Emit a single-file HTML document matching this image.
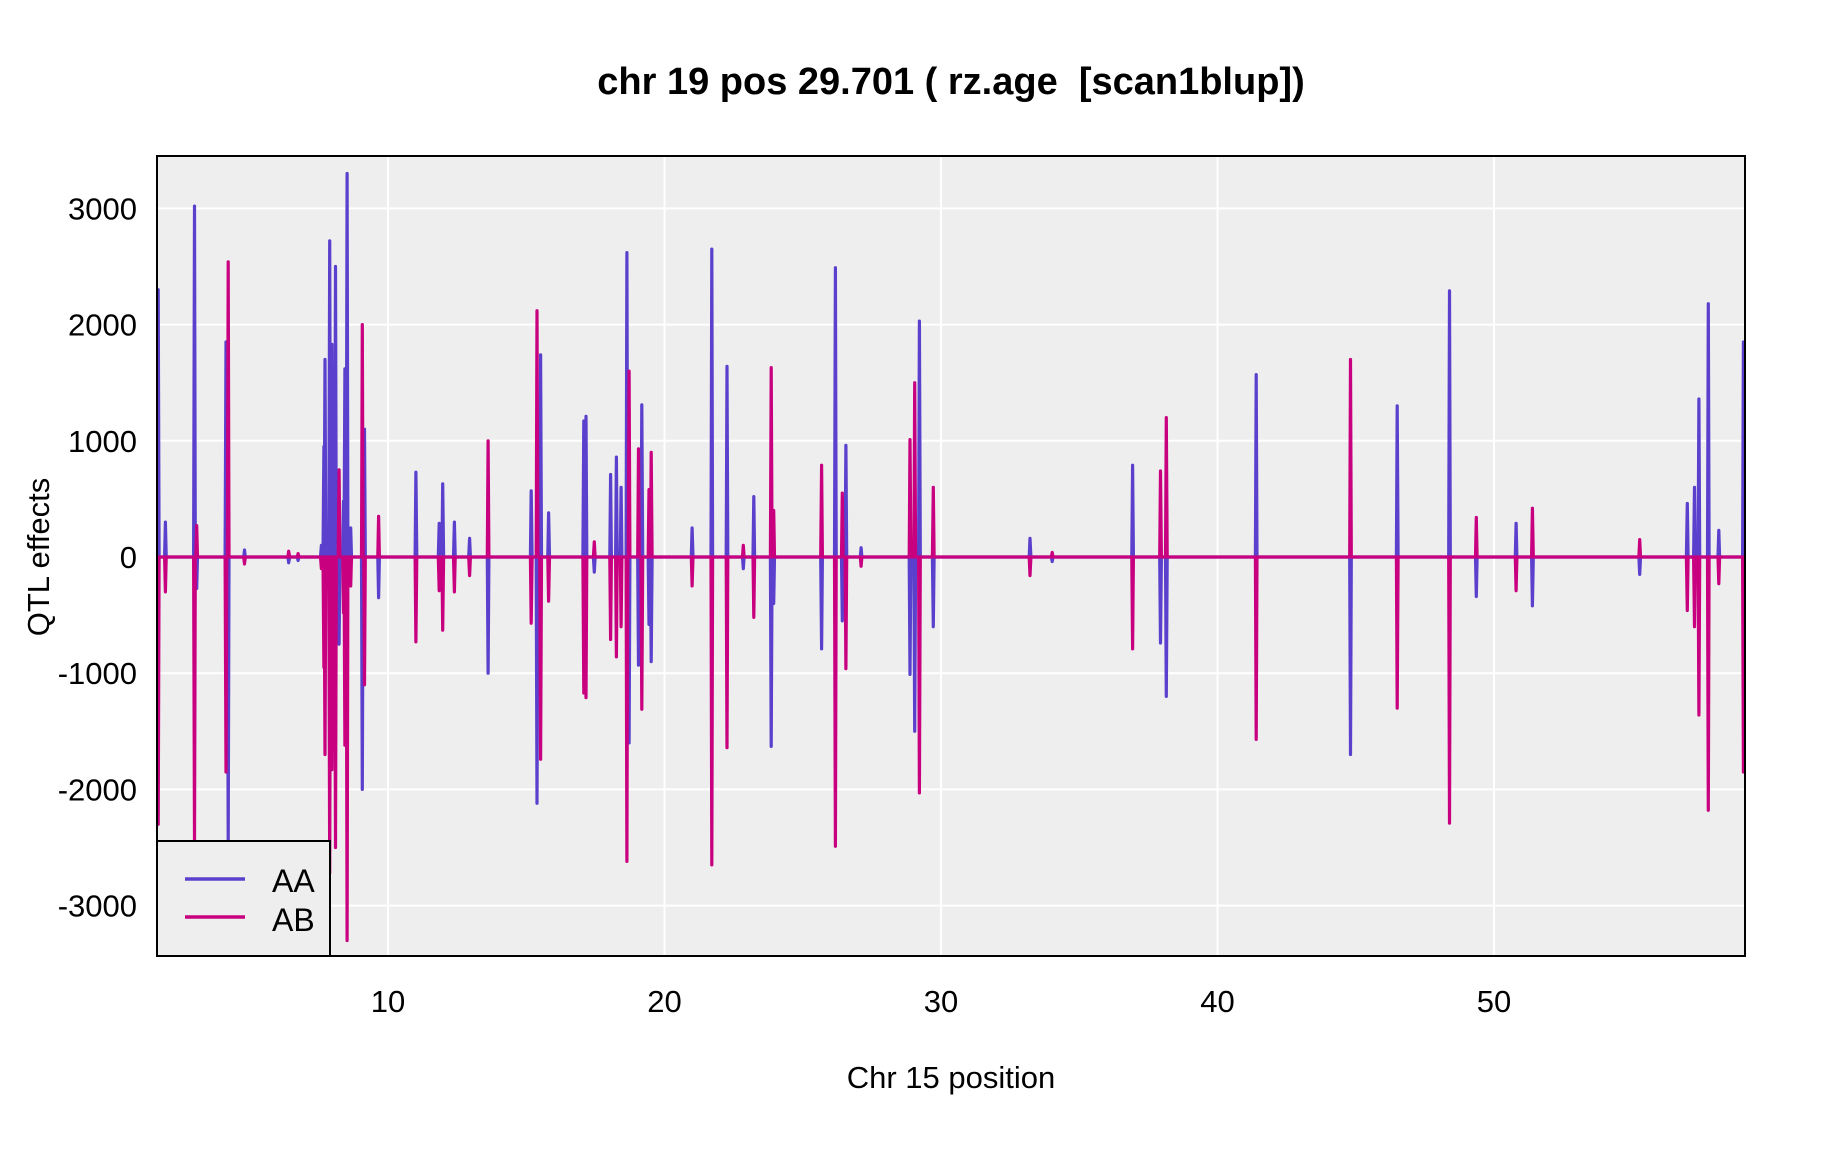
<!DOCTYPE html>
<html><head><meta charset="utf-8"><style>
body{margin:0;background:#fff;}
svg{display:block;font-family:"Liberation Sans",Arial,sans-serif;}
</style></head><body>
<svg id="chart" width="1824" height="1152" viewBox="0 0 1824 1152">
<text x="951" y="94" font-size="38" font-weight="bold" text-anchor="middle" xml:space="preserve">chr 19 pos 29.701 ( rz.age  [scan1blup])</text>
<rect x="157" y="156" width="1588" height="800" fill="#eeeeee"/>
<g id="grid"></g>
<g id="series"></g>
<rect x="157" y="156" width="1588" height="800" fill="none" stroke="#000" stroke-width="2"/>
<g id="ticks"></g>
<text x="951" y="1088" font-size="31" text-anchor="middle">Chr 15 position</text>
<text transform="translate(49,557) rotate(-90)" font-size="31" text-anchor="middle">QTL effects</text>
<g>
<rect x="157" y="841" width="173" height="115" fill="#eeeeee" stroke="#000" stroke-width="2"/>
<line x1="185" y1="879" x2="245" y2="879" stroke="#5a40cc" stroke-width="3.5"/>
<text x="272" y="892" font-size="32">AA</text>
<line x1="185" y1="917" x2="245" y2="917" stroke="#c8007f" stroke-width="3.5"/>
<text x="272" y="931" font-size="32">AB</text>
</g>
</svg>
<script>
const xTicks = [10, 20, 30, 40, 50];
const yTicks = [-3000, -2000, -1000, 0, 1000, 2000, 3000];
const positions = [1.69,1.95,3.00,3.08,4.14,4.22,4.81,6.41,6.75,7.59,7.68,7.72,7.89,7.97,8.10,8.23,8.39,8.44,8.52,8.65,9.07,9.15,9.66,11.01,11.85,11.98,12.40,12.95,13.62,15.18,15.39,15.52,15.81,17.08,17.16,17.46,18.05,18.26,18.43,18.64,18.72,19.06,19.18,19.44,19.52,21.00,21.71,22.26,22.85,23.23,23.86,23.95,25.68,26.18,26.43,26.56,27.11,28.88,29.05,29.22,29.72,33.22,34.02,36.93,37.94,38.15,41.40,44.81,46.50,48.39,49.36,50.80,51.39,55.27,56.99,57.25,57.41,57.75,58.13,59.02];
const aaValues = [2300,300,3020,-270,1850,-2450,60,-50,-30,100,950,1700,2720,1830,2500,-750,480,1620,3300,250,-2000,1100,-350,730,290,630,300,160,-1000,570,-2120,1740,380,1170,1210,-130,710,860,600,2620,-1600,-930,1310,-580,-900,250,2650,1640,-100,520,-1630,-400,-790,2490,-550,960,80,-1010,-1500,2030,-600,160,-40,790,-740,-1200,1570,-1700,1300,2290,-340,290,-420,-150,460,600,1360,2180,230,1850];
const abValues = [-2300,-300,-2450,270,-1850,2540,-60,50,30,-100,-950,-1700,-2720,-1830,-2500,750,-480,-1620,-3300,-250,2000,-1100,350,-730,-290,-630,-300,-160,1000,-570,2120,-1740,-380,-1170,-1210,130,-710,-860,-600,-2620,1600,930,-1310,580,900,-250,-2650,-1640,100,-520,1630,400,790,-2490,550,-960,-80,1010,1500,-2030,600,-160,40,-790,740,1200,-1570,1700,-1300,-2290,340,-290,420,150,-460,-600,-1360,-2180,-230,-1850];
const NS='http://www.w3.org/2000/svg';
const xMin=1.65, xMax=59.08;
const X=v=>388+(v-10)*27.65;
const Y=v=>557-v*0.1162;
const grid=document.getElementById('grid'), ticks=document.getElementById('ticks'), series=document.getElementById('series');
function mk(tag,attrs,parent){const e=document.createElementNS(NS,tag);for(const k in attrs)e.setAttribute(k,attrs[k]);parent.appendChild(e);return e;}
for(const t of xTicks){
  const g=mk('line',{x1:X(t),x2:X(t),y1:156,y2:956,stroke:'#fff','stroke-width':2},grid);
  
  
  const l=mk('text',{x:X(t),y:1012,'font-size':31,'text-anchor':'middle'},ticks);
  l.textContent=t;
  
  
}
for(const t of yTicks){
  const g=mk('line',{x1:157,x2:1745,y1:Y(t),y2:Y(t),stroke:'#fff','stroke-width':2},grid);
  
  
  const l=mk('text',{x:137,y:Y(t)+11,'font-size':31,'text-anchor':'end'},ticks);
  l.textContent=t;
  
  
}
function drawSeries(vals,color,name){
  const d=0.03;
  let pts=[[xMin,0]];
  positions.forEach((p,i)=>{pts.push([p-d,0],[p,vals[i]],[p+d,0]);});
  pts.push([xMax,0]);
  const pl=mk('polyline',{points:pts.map(q=>X(q[0]).toFixed(1)+','+Y(q[1]).toFixed(1)).join(' '),fill:'none',stroke:color,'stroke-width':3.2,'stroke-linejoin':'round'},series);
  
  
}
const clip=mk('clipPath',{id:'pc'},document.getElementById('chart'));
mk('rect',{x:157,y:156,width:1588,height:800},clip);
series.setAttribute('clip-path','url(#pc)');
drawSeries(aaValues,'#5a40cc','series-aa-line');
drawSeries(abValues,'#c8007f','series-ab-line');
</script>
</body></html>
